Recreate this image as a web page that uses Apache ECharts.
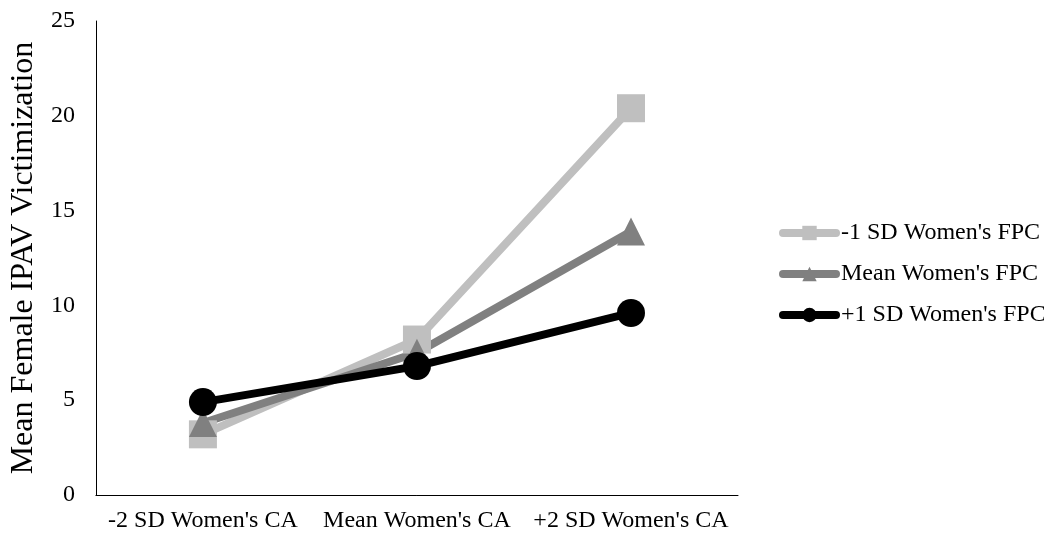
<!DOCTYPE html>
<html><head><meta charset="utf-8">
<script src="https://cdn.jsdelivr.net/npm/echarts@6/dist/echarts.min.js"></script>
<style>html,body{margin:0;padding:0;background:#fff}#c{width:1044px;height:535px}</style>
</head><body><div id="c"></div>
<script>
const categories = ["-2 SD Women's CA", "Mean Women's CA", "+2 SD Women's CA"];
const lowFPC = [3.2, 8.2, 20.4];
const meanFPC = [3.8, 7.5, 13.9];
const highFPC = [4.9, 6.8, 9.6];
const seriesNames = ["-1 SD Women's FPC", "Mean Women's FPC", "+1 SD Women's FPC"];
const yTicks = [0, 5, 10, 15, 20, 25];

const font = "'Liberation Serif', 'Times New Roman', serif";
const chart = echarts.init(document.getElementById('c'));
function mk(name, data, color, symbol, size, width) {
  return {
    name, type: 'line', data, symbol, symbolSize: size,
    lineStyle: { color, width, cap: 'round' }, itemStyle: { color },
    z: 2
  };
}
chart.setOption({
  animation: false,
  textStyle: { fontFamily: font },
  grid: { left: 93, right: 306, top: 21, bottom: 40 },
  legend: {
    orient: 'vertical', left: 779, top: 221, itemGap: 17, padding: 0,
    itemWidth: 53, itemHeight: 18,
    lineStyle: { width: 8, cap: 'round' },
    textStyle: { fontFamily: font, fontSize: 24, color: '#000' },
    data: seriesNames
  },
  xAxis: {
    type: 'category', data: categories, boundaryGap: true,
    axisLine: { lineStyle: { color: '#000', width: 1 } },
    axisTick: { show: false },
    axisLabel: { fontFamily: font, fontSize: 24, color: '#000', margin: 14, interval: 0 }
  },
  yAxis: {
    type: 'value', min: 0, max: 25, interval: 5,
    name: 'Mean Female IPAV Victimization', nameLocation: 'middle', nameGap: 53,
    nameTextStyle: { fontFamily: font, fontSize: 32, color: '#000' },
    axisLine: { show: true, lineStyle: { color: '#000', width: 1 } },
    axisTick: { show: false },
    splitLine: { show: false },
    axisLabel: { fontFamily: font, fontSize: 24, color: '#000', margin: 21,
      formatter: v => yTicks.includes(v) ? String(v) : '' }
  },
  series: [
    mk(seriesNames[0], lowFPC, '#BFBFBF', 'rect', 28, 8),
    mk(seriesNames[1], meanFPC, '#808080', 'triangle', 28, 8),
    mk(seriesNames[2], highFPC, '#000000', 'circle', 28, 8)
  ]
});
</script></body></html>
